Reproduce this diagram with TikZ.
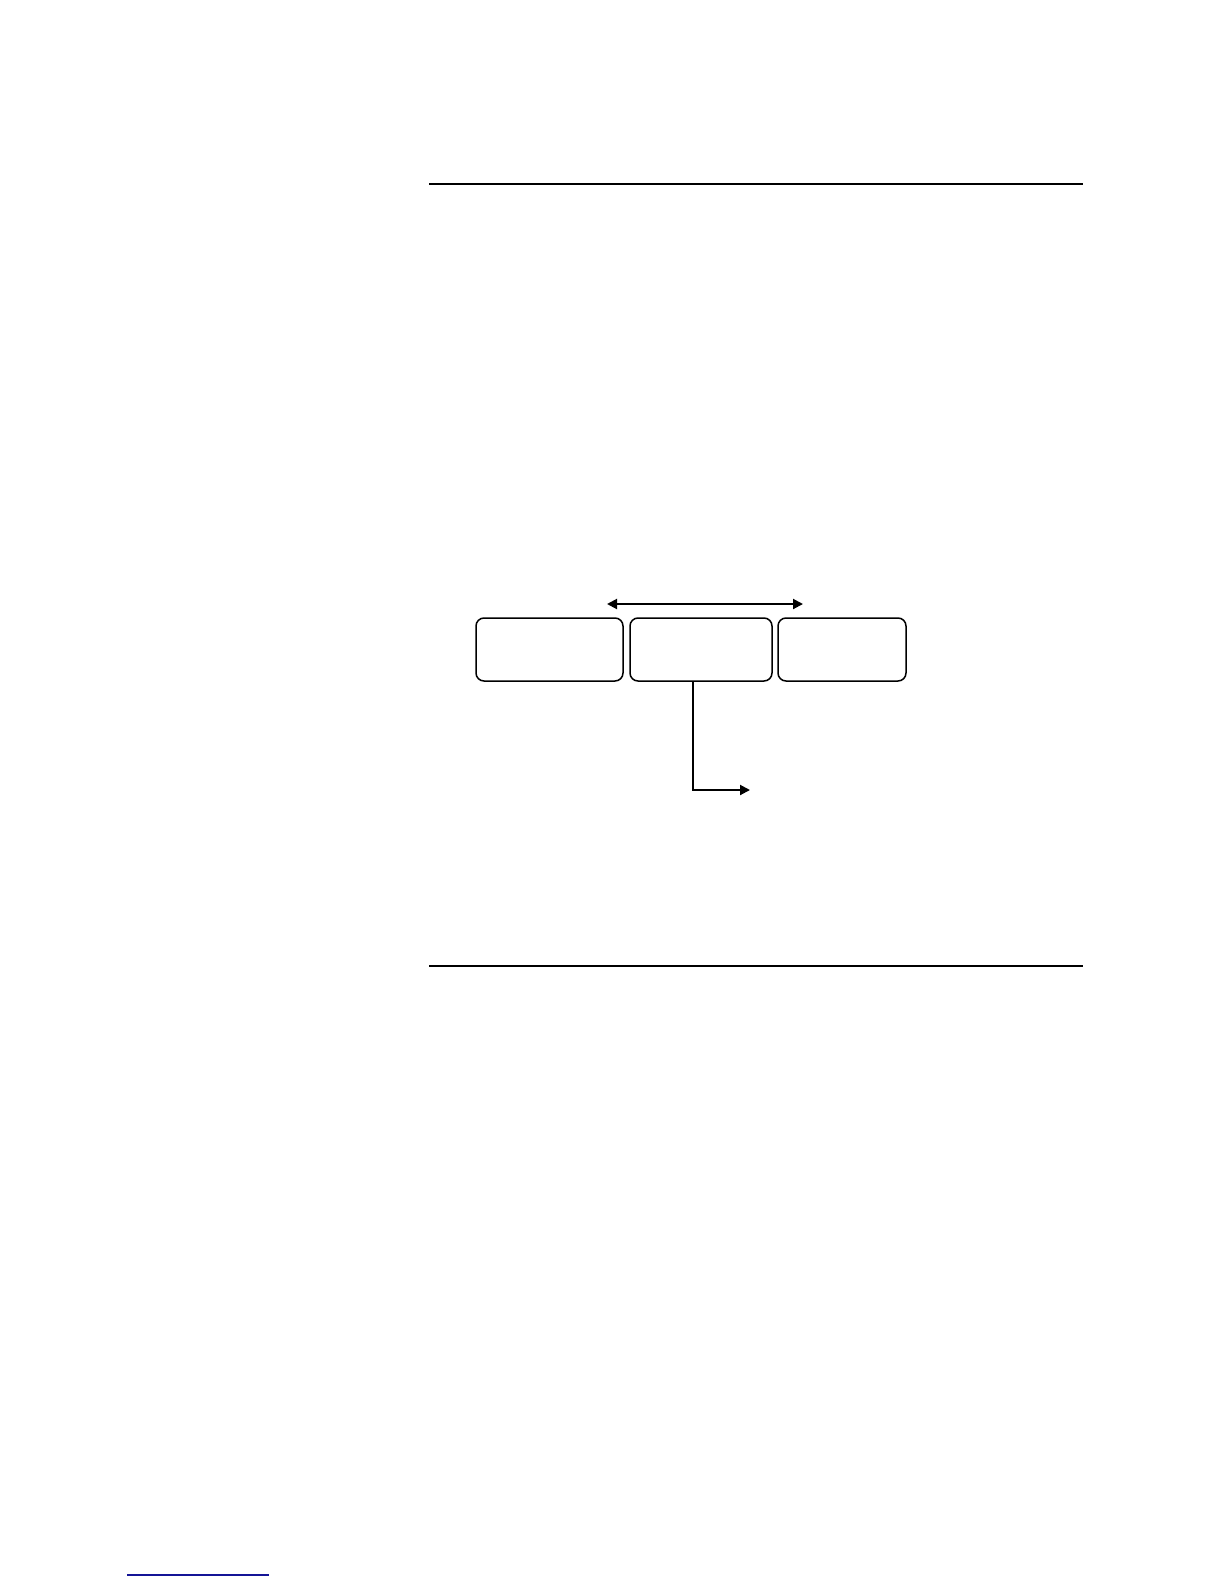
\documentclass[tikz,border=0pt]{standalone}
\usetikzlibrary{arrows.meta}
\begin{document}
\begin{tikzpicture}[x=0.5pt,y=-0.5pt,
  boxst/.style={draw,rounded corners=4pt,line width=0.75pt,inner sep=0pt,minimum height=31.5pt},
  arr/.style={line width=1pt,-{Triangle[length=5pt,width=5pt]}},
  darr/.style={line width=1pt,{Triangle[length=5pt,width=5pt]}-{Triangle[length=5pt,width=5pt]}},
  rulethick/.style={line width=1.1pt},
  rulethin/.style={line width=0.65pt}]
\useasboundingbox[fill=white] (0,0) rectangle (1224,1584);
% horizontal rules
\coordinate (t1) at (429,184);
\coordinate (t2) at (1083,184);
\coordinate (b1) at (429,966);
\coordinate (b2) at (1083,966);
\draw[rulethick] (t1) -- (t2);
\draw[rulethin] (b1) -- (b2);
% boxes
\node[boxst,minimum width=73.5pt] (lbox) at (549.5,649.5) {};
\node[boxst,minimum width=71pt] (mbox) at (701,649.5) {};
\node[boxst,minimum width=64pt] (rbox) at (842,649.5) {};
% double arrow
\coordinate (al) at (607,604);
\coordinate (ar) at (803,604);
\draw[darr] (al) -- (ar);
% elbow arrow
\coordinate (turn) at (693,790);
\coordinate (tip) at (750,790);
\draw[arr] (mbox.south -| turn) -- (turn) -- (tip);
% footnote rule
\coordinate (f1) at (127,1575);
\coordinate (f2) at (269,1575);
\draw[line width=0.6pt,color={rgb,255:red,20;green,20;blue,150}] (f1) -- (f2);
\end{tikzpicture}
\end{document}
